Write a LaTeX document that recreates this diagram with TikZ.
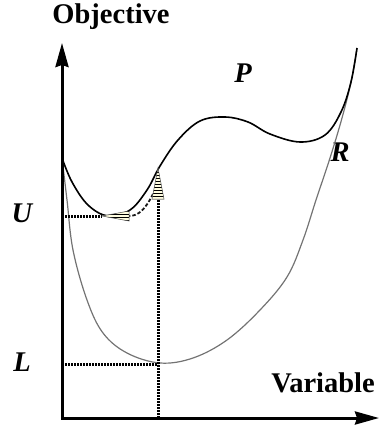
\documentclass[tikz,border=0pt]{standalone}
\usepackage{fontspec}
\setmainfont{Liberation Serif}
\usepackage{tikz}
\usetikzlibrary{arrows.meta,patterns,calc}

\begin{document}
\begin{tikzpicture}[
  x=1pt, y=-1pt,
  axis/.style={line width=3pt, {Stealth[length=24pt,width=13pt,inset=2pt]}-{Stealth[length=24pt,width=13pt,inset=2pt]}},
  lbl/.style={font=\fontsize{28.5}{30}\selectfont\bfseries, inner sep=0pt},
  sym/.style={font=\fontsize{28.5}{30}\selectfont\bfseries\itshape, inner sep=0pt},
  prob/.style={line width=1.6pt, black},
  relax/.style={line width=1.2pt, black!55},
  guide/.style={line width=3pt, dash pattern=on 2pt off 1pt, black},
  move/.style={line width=1.8pt, dash pattern=on 3.5pt off 2pt, black!90},
  hatch/.style={preaction={fill=yellow!12}, pattern=horizontal lines, draw=black!70, line width=0.5pt}
]
  \useasboundingbox (0,0) rectangle (379,425);

  \node[lbl] (obj) at (111,17) {Objective};
  \node[lbl] (var) at (323,383) {Variable};
  \node[sym] (U) at (22,213) {U};
  \node[sym] (L) at (22,362) {L};
  \node[sym] (P) at (243,73) {P};
  \node[sym] (R) at (340,152) {R};

  \coordinate (o) at (62,418);
  \coordinate (ytip) at (62,43);
  \coordinate (xtip) at (379,418);
  \coordinate (uaxis) at (62,216);
  \coordinate (laxis) at (62,364);
  \coordinate (lmin) at (158,364);
  \coordinate (xfoot) at (158,418);
  \coordinate (upbase) at (158,199);
  \coordinate (uptip) at (158,168);
  \coordinate (lefttip) at (102,216);
  \coordinate (leftbase) at (129,216);
  \coordinate (dstart) at (153,194);

  \draw[relax] plot[smooth, tension=0.6] coordinates {(62,158) (67,200) (73,250) (87,300) (103,333) (127,353) (160,363) (193,358) (227,340) (260,310) (287,277) (303,240) (316,200) (330,158) (342,118) (351,82) (357,48)};
  \draw[prob] plot[smooth, tension=0.6] coordinates {(62,158) (72,182) (88,205) (108,216) (130,210) (147,190) (160,166) (178,140) (200,121) (225,117) (248,122) (270,134) (300,142) (325,135) (341,112) (351,82) (357,48)};

  \draw[axis] (ytip) -- (o) -- (xtip);

  \draw[guide] (uaxis) -- (lefttip);
  \draw[guide] (laxis) -- (lmin);
  \draw[guide] (xfoot) -- (upbase);
  \draw[move] (dstart) .. controls (145,210) and (138,216) .. (leftbase);
  \filldraw[hatch] ($(leftbase)+(0,-5)$) -- (lefttip) -- ($(leftbase)+(0,5)$) -- cycle;
  \filldraw[hatch] ($(upbase)+(-6,0)$) -- (uptip) -- ($(upbase)+(6,0)$) -- cycle;
\end{tikzpicture}
\end{document}
